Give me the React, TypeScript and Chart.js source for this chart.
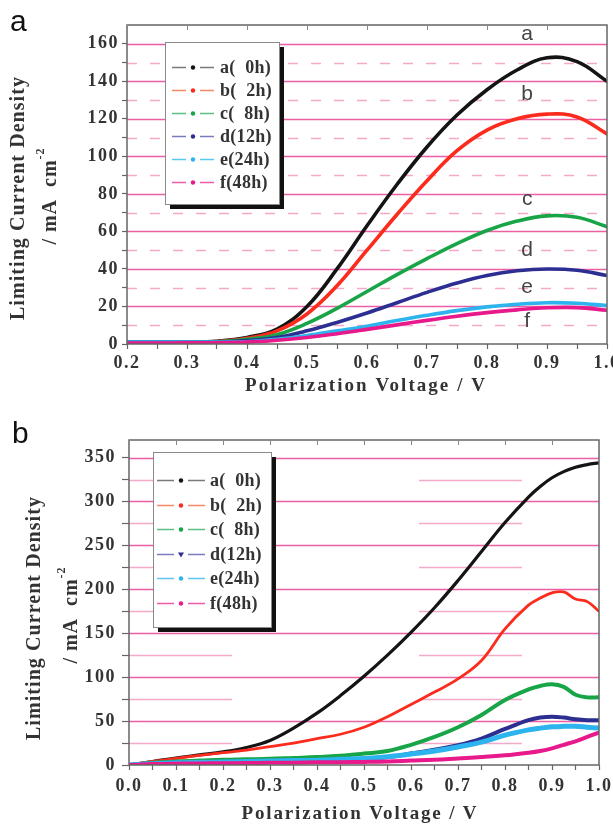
import { useEffect, useRef } from 'react';
import { Chart, registerables } from 'chart.js';

Chart.register(...registerables);

// ---------- shared ----------
const SERIES_NAMES = ['a(  0h)', 'b(  2h)', 'c(  8h)', 'd(12h)', 'e(24h)', 'f(48h)'];
const CURVE_TAGS = ['a', 'b', 'c', 'd', 'e', 'f'];
const LINE_COLORS = ['#141414', '#fb2b1d', '#17a548', '#2c2e91', '#2db4ee', '#e8198b'];
const LEGEND_LINE_COLORS = ['#7a7a7a', '#f5896a', '#5cbf84', '#7b7cc0', '#5cc8f2', '#f05aa6'];

// ---------- panel a ----------
const xA = [0.2, 0.25, 0.3, 0.35, 0.4, 0.45, 0.5, 0.55, 0.6, 0.65, 0.7, 0.75, 0.8, 0.85, 0.9, 0.95, 1.0];
const a0hA = [1, 1, 1, 1.5, 3.5, 8, 20, 40, 63, 85, 105, 122, 135.5, 146, 152.5, 150.5, 140];
const b2hA = [1, 1, 1, 1.3, 3, 7, 16, 31, 50, 69, 87, 103, 114, 120, 122.5, 121, 112];
const c8hA = [1, 1, 1, 1.2, 2.5, 5, 11, 19, 28, 37, 45.5, 53.5, 60.5, 65.5, 68.3, 67.5, 62.5];
const d12hA = [1, 1, 1, 1, 1.8, 3.5, 7, 11.5, 16.5, 22, 27.5, 32.5, 36.5, 39, 40, 39.3, 36.5];
const e24hA = [1, 1, 1, 1, 1.2, 2.5, 4.5, 7, 9.5, 12.5, 15.3, 17.8, 19.8, 21.2, 22, 21.7, 20.5];
const f48hA = [0.5, 0.5, 0.6, 0.7, 1, 2, 3.5, 5.5, 7.8, 10.2, 12.6, 14.8, 16.7, 18.2, 19.3, 19.4, 18];
const xMajorA = [0.2, 0.3, 0.4, 0.5, 0.6, 0.7, 0.8, 0.9, 1.0];
const xLabelsA = ['0.2', '0.3', '0.4', '0.5', '0.6', '0.7', '0.8', '0.9', '1.0'];
const xMinorA = [0.25, 0.35, 0.45, 0.55, 0.65, 0.75, 0.85, 0.95];
const yMajorA = [0, 20, 40, 60, 80, 100, 120, 140, 160];
const yLabelsA = ['0', '20', '40', '60', '80', '100', '120', '140', '160'];
const yMinorA = [10, 30, 50, 70, 90, 110, 130, 150];
const tagXA = 0.867;
const tagYA = [165, 133, 77, 50, 30.5, 12];

// ---------- panel b ----------
const xB = [0, 0.05, 0.1, 0.15, 0.2, 0.25, 0.3, 0.35, 0.4, 0.45, 0.5, 0.55, 0.6, 0.65, 0.7, 0.75, 0.8, 0.85, 0.875, 0.9, 0.925, 0.95, 0.975, 1.0];
const a0hB = [0, 4, 8, 11.5, 15, 20, 28, 42, 59, 79, 101, 125, 151, 179, 210, 243, 276, 305, 317, 327, 334, 339, 342, 344];
const b2hB = [0, 4, 7.5, 11, 14, 17, 21, 25, 30, 35, 43, 55, 69, 83, 98, 119, 155, 182, 190, 196, 197, 189, 186, 175];
const c8hB = [0, 2.5, 4, 5, 6, 6.5, 7, 8, 9, 10.5, 13, 16, 23, 32, 43, 57, 74, 86, 90, 92, 89, 80, 77, 77];
const d12hB = [0, 1.5, 2.5, 3, 3.5, 4, 4.5, 5, 5.5, 6, 7, 9, 13, 17.5, 22.5, 30, 41, 51, 54, 55, 54, 52, 51, 51];
const e24hB = [0, 1.5, 2.5, 3, 3.5, 4, 4.5, 5, 5.5, 6.5, 7.5, 9.5, 12.5, 16, 20.5, 26, 34, 40, 42, 43.5, 44, 44, 43, 42];
const f48hB = [0, 1, 1.5, 1.8, 2, 2.2, 2.5, 2.7, 3, 3.2, 3.5, 4, 5, 6, 7.5, 9, 11, 14, 16, 19, 23, 27, 32, 37];
const xMajorB = [0, 0.1, 0.2, 0.3, 0.4, 0.5, 0.6, 0.7, 0.8, 0.9, 1.0];
const xLabelsB = ['0.0', '0.1', '0.2', '0.3', '0.4', '0.5', '0.6', '0.7', '0.8', '0.9', '1.0'];
const xMinorB = [0.05, 0.15, 0.25, 0.35, 0.45, 0.55, 0.65, 0.75, 0.85, 0.95];
const yMajorB = [0, 50, 100, 150, 200, 250, 300, 350];
const yLabelsB = ['0', '50', '100', '150', '200', '250', '300', '350'];
const yMinorB = [25, 75, 125, 175, 225, 275, 325];

const SERIF = '"Liberation Serif", "Times New Roman", serif';
const SANS = '"Liberation Sans", Arial, sans-serif';

const PANEL_A = {
  key: 'A', letter: 'a', canvasW: 613, canvasH: 410,
  box: { left: 127, right: 607, top: 25, bottom: 344 },
  xs: xA, series: [a0hA, b2hA, c8hA, d12hA, e24hA, f48hA],
  lineWidths: [3.6, 3.6, 3.6, 3.6, 3.6, 3.6],
  xMin: 0.2, xMax: 1.0, yMin: 0, yMax: 170,
  xMajor: xMajorA, xLabels: xLabelsA, xMinor: xMinorA,
  yMajor: yMajorA, yLabels: yLabelsA, yMinor: yMinorA,
  xTickPad: 4, yTickLen: 5, yTickPad: 3,
  dash: [10, 13],
  tags: true,
  letterPos: [10, 31],
  yTitle1: { x: 19, y: 198, w: 243 },
  yTitle2: { x: 51, y: 196, w: 98 },
  xTitle: { x: 366, y: 386, w: 240 },
  legend: { x: 165, y: 42, w: 114, h: 162, row0: 67, step: 23, l0: 172, l1: 214, dot: 193, tx: 220, font: 18 },
};

const PANEL_B = {
  key: 'B', letter: 'b', canvasW: 613, canvasH: 414,
  box: { left: 129, right: 599, top: 30, bottom: 355 },
  xs: xB, series: [a0hB, b2hB, c8hB, d12hB, e24hB, f48hB],
  lineWidths: [3.2, 2.8, 4, 4, 5, 4],
  xMin: 0, xMax: 1.0, yMin: 0, yMax: 370,
  xMajor: xMajorB, xLabels: xLabelsB, xMinor: xMinorB,
  yMajor: yMajorB, yLabels: yLabelsB, yMinor: yMinorB,
  xTickPad: 6, yTickLen: 7, yTickPad: 6,
  dash: [103, 187],
  tags: false,
  letterPos: [12, 33],
  yTitle1: { x: 35, y: 208, w: 243 },
  yTitle2: { x: 72, y: 205, w: 98 },
  xTitle: { x: 360, y: 404, w: 235 },
  legend: { x: 153, y: 42, w: 118, h: 175, row0: 70, step: 24.6, l0: 157, l1: 205, dot: 181, tx: 210, font: 18 },
};

type Panel = typeof PANEL_A;

function labelFor(v: number, majors: number[], labels: string[]) {
  const i = majors.findIndex((m) => Math.abs(m - v) < 1e-9);
  return i >= 0 ? labels[i] : '';
}

function spacingFor(ctx: any, text: string, font: string, target: number) {
  ctx.save();
  ctx.font = font;
  ctx.letterSpacing = '0px';
  const w = ctx.measureText(text).width;
  ctx.restore();
  return Math.max(0, (target - w) / Math.max(1, text.length - 1));
}

function makePlugin(p: Panel) {
  return {
    id: 'deco' + p.key,
    beforeDraw(chart: any) {
      const ctx = chart.ctx;
      ctx.save();
      ctx.fillStyle = '#ffffff';
      ctx.fillRect(0, 0, chart.width, chart.height);
      ctx.restore();
      ctx.letterSpacing = '1.5px';
    },
    beforeDatasetsDraw(chart: any) {
      const { ctx, chartArea: ca, scales } = chart;
      ctx.save();
      ctx.beginPath();
      ctx.rect(ca.left, ca.top, ca.right - ca.left, ca.bottom - ca.top);
      ctx.clip();
      ctx.lineWidth = 1.3;
      ctx.strokeStyle = '#f4a9c9';
      ctx.setLineDash(p.dash);
      for (const v of p.yMinor) {
        const y = Math.round(scales.y.getPixelForValue(v)) + 0.5;
        ctx.beginPath();
        ctx.moveTo(ca.left, y);
        ctx.lineTo(ca.right, y);
        ctx.stroke();
      }
      ctx.setLineDash([]);
      ctx.strokeStyle = '#ec5fa3';
      for (const v of p.yMajor) {
        if (v === 0) continue;
        const y = Math.round(scales.y.getPixelForValue(v)) + 0.5;
        ctx.beginPath();
        ctx.moveTo(ca.left, y);
        ctx.lineTo(ca.right, y);
        ctx.stroke();
      }
      ctx.restore();
    },
    afterDatasetsDraw(chart: any) {
      const { ctx, chartArea: ca, scales } = chart;
      ctx.save();
      ctx.letterSpacing = '0px';
      // frame
      ctx.strokeStyle = '#666';
      ctx.lineWidth = 1.5;
      ctx.strokeRect(ca.left, ca.top, ca.right - ca.left, ca.bottom - ca.top);
      // top ticks
      ctx.lineWidth = 1;
      ctx.strokeStyle = '#888';
      for (const v of p.xMajor) {
        const x = Math.round(scales.x.getPixelForValue(v)) + 0.5;
        ctx.beginPath();
        ctx.moveTo(x, ca.top);
        ctx.lineTo(x, ca.top + 5);
        ctx.stroke();
      }
      // curve tags
      if (p.tags) {
        ctx.font = `21px ${SANS}`;
        ctx.fillStyle = '#444';
        ctx.textAlign = 'center';
        ctx.textBaseline = 'middle';
        CURVE_TAGS.forEach((t, i) => {
          ctx.fillText(t, scales.x.getPixelForValue(tagXA), scales.y.getPixelForValue(tagYA[i]));
        });
      }
      // legend
      const L = p.legend;
      ctx.fillStyle = '#111';
      ctx.fillRect(L.x + 5, L.y + 5, L.w, L.h);
      ctx.fillStyle = '#fff';
      ctx.fillRect(L.x, L.y, L.w, L.h);
      ctx.strokeStyle = '#8a8a8a';
      ctx.lineWidth = 1;
      ctx.strokeRect(L.x + 0.5, L.y + 0.5, L.w, L.h);
      SERIES_NAMES.forEach((name, i) => {
        const y = Math.round(L.row0 + i * L.step) + 0.5;
        ctx.strokeStyle = LEGEND_LINE_COLORS[i];
        ctx.lineWidth = 1.5;
        ctx.beginPath();
        ctx.moveTo(L.l0, y);
        ctx.lineTo(L.dot - 7, y);
        ctx.moveTo(L.dot + 7, y);
        ctx.lineTo(L.l1, y);
        ctx.stroke();
        ctx.fillStyle = LINE_COLORS[i];
        ctx.beginPath();
        if (p.key === 'B' && i === 3) {
          ctx.moveTo(L.dot - 3, y - 2);
          ctx.lineTo(L.dot + 3, y - 2);
          ctx.lineTo(L.dot, y + 3);
          ctx.closePath();
        } else {
          ctx.arc(L.dot, y, 2.2, 0, Math.PI * 2);
        }
        ctx.fill();
        ctx.font = `bold ${L.font}px ${SERIF}`;
        ctx.letterSpacing = '0.3px';
        ctx.fillStyle = '#333';
        ctx.textAlign = 'left';
        ctx.textBaseline = 'middle';
        ctx.fillText(name, L.tx, y + 1);
        ctx.letterSpacing = '0px';
      });
      // x title
      const xFont = `bold 19px ${SERIF}`;
      const xText = 'Polarization Voltage / V';
      ctx.font = xFont;
      ctx.letterSpacing = spacingFor(ctx, xText, xFont, p.xTitle.w) + 'px';
      ctx.fillStyle = '#333';
      ctx.textAlign = 'center';
      ctx.textBaseline = 'middle';
      ctx.fillText(xText, p.xTitle.x, p.xTitle.y);
      // y title line 1
      const y1Text = 'Limiting Current Density';
      const y1Font = `bold 20px ${SERIF}`;
      const sp1 = spacingFor(ctx, y1Text, y1Font, p.yTitle1.w);
      ctx.save();
      ctx.translate(p.yTitle1.x, p.yTitle1.y);
      ctx.rotate(-Math.PI / 2);
      ctx.font = y1Font;
      ctx.letterSpacing = sp1 + 'px';
      ctx.fillStyle = '#333';
      ctx.textAlign = 'center';
      ctx.textBaseline = 'middle';
      ctx.fillText(y1Text, 0, 0);
      ctx.restore();
      // y title line 2
      const mainT = '/ mA  cm';
      const supT = '-2';
      const mainF = `bold 20px ${SERIF}`;
      const supF = `bold 12px ${SERIF}`;
      ctx.save();
      ctx.translate(p.yTitle2.x, p.yTitle2.y);
      ctx.rotate(-Math.PI / 2);
      ctx.letterSpacing = '1px';
      ctx.fillStyle = '#333';
      ctx.font = mainF;
      const w1 = ctx.measureText(mainT).width;
      ctx.font = supF;
      const w2 = ctx.measureText(supT).width;
      const start = -(w1 + w2) / 2;
      ctx.textAlign = 'left';
      ctx.textBaseline = 'middle';
      ctx.font = mainF;
      ctx.fillText(mainT, start, 0);
      ctx.font = supF;
      ctx.fillText(supT, start + w1, -10);
      ctx.restore();
      // panel letter
      ctx.font = `30px ${SANS}`;
      ctx.letterSpacing = '0px';
      ctx.fillStyle = '#111';
      ctx.textAlign = 'left';
      ctx.textBaseline = 'alphabetic';
      ctx.fillText(p.letter, p.letterPos[0], p.letterPos[1]);
      ctx.restore();
    },
  };
}

function buildConfig(p: Panel): any {
  const datasets = p.series.map((ys, i) => ({
    label: SERIES_NAMES[i],
    data: p.xs.map((x, j) => ({ x, y: ys[j] })),
    borderColor: LINE_COLORS[i],
    backgroundColor: LINE_COLORS[i],
    borderWidth: p.lineWidths[i],
    pointRadius: 0,
    fill: false,
    tension: 0.4,
    borderCapStyle: 'round',
    borderJoinStyle: 'round',
    order: 5 - i,
  }));
  const xAll = [...p.xMajor, ...p.xMinor].sort((a, b) => a - b);
  const yAll = [...p.yMajor, ...p.yMinor].sort((a, b) => a - b);
  const tickFont = { family: SERIF, size: 18, weight: 'bold' as const };
  return {
    type: 'line',
    data: { datasets },
    options: {
      animation: false,
      responsive: false,
      devicePixelRatio: 1,
      events: [],
      layout: { padding: { left: 0, top: p.box.top, right: p.canvasW - p.box.right, bottom: 0 } },
      plugins: { legend: { display: false }, tooltip: { enabled: false } },
      scales: {
        x: {
          type: 'linear',
          min: p.xMin,
          max: p.xMax,
          afterBuildTicks: (s: any) => {
            s.ticks = xAll.map((v) => ({ value: v }));
          },
          afterFit: (s: any) => {
            s.height = p.canvasH - p.box.bottom;
            s.paddingLeft = 0;
            s.paddingRight = 0;
          },
          ticks: {
            autoSkip: false,
            maxRotation: 0,
            minRotation: 0,
            padding: p.xTickPad,
            color: '#333',
            font: tickFont,
            callback: (v: any) => labelFor(Number(v), p.xMajor, p.xLabels),
          },
          grid: { drawOnChartArea: false, drawTicks: true, tickLength: 5, tickColor: '#666', tickWidth: 1.2 },
          border: { display: false },
        },
        y: {
          type: 'linear',
          min: p.yMin,
          max: p.yMax,
          afterBuildTicks: (s: any) => {
            s.ticks = yAll.map((v) => ({ value: v }));
          },
          afterFit: (s: any) => {
            s.width = p.box.left;
            s.paddingTop = 0;
            s.paddingBottom = 0;
          },
          ticks: {
            autoSkip: false,
            padding: p.yTickPad,
            color: '#333',
            font: tickFont,
            callback: (v: any) => labelFor(Number(v), p.yMajor, p.yLabels),
          },
          grid: { drawOnChartArea: false, drawTicks: true, tickLength: p.yTickLen, tickColor: '#666', tickWidth: 1.2 },
          border: { display: false },
        },
      },
    },
    plugins: [makePlugin(p)],
  };
}

export default function App() {
  const refA = useRef<HTMLCanvasElement>(null);
  const refB = useRef<HTMLCanvasElement>(null);
  useEffect(() => {
    const cA = new Chart(refA.current as HTMLCanvasElement, buildConfig(PANEL_A));
    const cB = new Chart(refB.current as HTMLCanvasElement, buildConfig(PANEL_B));
    return () => {
      cA.destroy();
      cB.destroy();
    };
  }, []);
  return (
    <div style={{ position: 'absolute', left: 0, top: 0, width: 613, height: 824, background: '#fff', overflow: 'hidden' }}>
      <canvas ref={refA} width={613} height={410} style={{ display: 'block', width: 613, height: 410 }} />
      <canvas ref={refB} width={613} height={414} style={{ display: 'block', width: 613, height: 414 }} />
    </div>
  );
}
